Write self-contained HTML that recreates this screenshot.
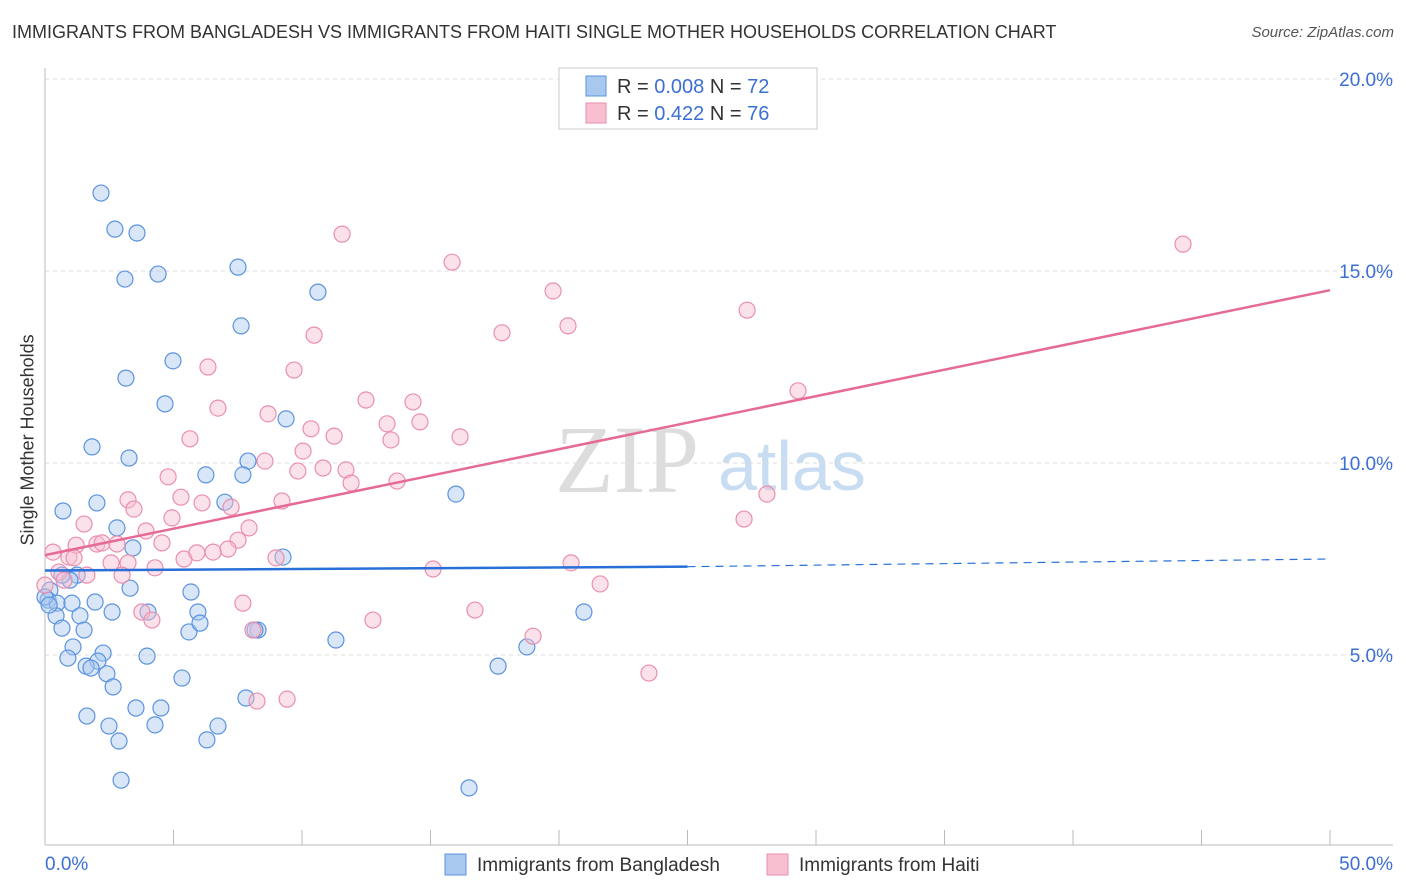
<!DOCTYPE html>
<html><head><meta charset="utf-8"><style>
body{margin:0;background:#fff;font-family:"Liberation Sans",sans-serif;}
#wrap{position:relative;width:1406px;height:892px;overflow:hidden}
.t{position:absolute;white-space:nowrap}
</style></head><body><div id="wrap">
<div class="t" style="left:12px;top:22px;font-size:18px;color:#333">IMMIGRANTS FROM BANGLADESH VS IMMIGRANTS FROM HAITI SINGLE MOTHER HOUSEHOLDS CORRELATION CHART</div>
<div class="t" style="right:12px;top:24px;font-size:15px;color:#555;font-style:italic">Source: ZipAtlas.com</div>
<div class="t" style="left:-62px;top:445px;font-size:18px;color:#333;transform:rotate(-90deg);transform-origin:center;width:180px;text-align:center">Single Mother Households</div>
<svg id="svg" width="1406" height="892" style="position:absolute;left:0;top:0"></svg>
</div>
<script>
const yTicks=[5,10,15,20];
const xTickLabels=["0.0%","50.0%"];
const blueX=[101,115,137,125,158,238,318,241,173,126,165,286,92,129,248,206,243,63,97,225,456,117,133,77,70,62,50,130,191,48,57,72,95,56,80,112,148,198,62,84,189,200,258,336,584,73,103,68,147,98,86,91,107,182,113,498,527,246,87,136,161,109,155,218,119,207,121,469,283,45,49,255].map(p=>+((p-45)/1285*50).toFixed(2));
const blueY=[193,229,233,279,274,267,292,326,361,378,404,419,447,458,461,475,475,511,503,502,494,528,548,575,580,575,590,588,592,600,603,603,602,616,616,612,612,612,628,630,632,623,630,640,612,647,653,658,656,661,666,668,674,678,687,666,647,698,716,708,708,726,725,726,741,740,780,788,557,597,605,630].map(p=>+((847-p)/38.4).toFixed(2));
const pinkX=[342,452,1183,553,747,314,502,568,208,294,798,366,218,413,268,387,420,190,311,334,391,460,265,303,168,298,323,346,351,397,181,202,231,282,128,767,134,172,744,84,146,249,69,76,97,102,117,162,238,228,53,74,184,197,213,276,155,111,128,433,571,87,122,59,64,45,600,243,475,142,152,373,253,533,257,287,649].map(p=>+((p-45)/1285*50).toFixed(2));
const pinkY=[234,262,244,291,310,335,333,326,367,370,391,400,408,402,414,424,422,439,429,436,440,437,461,451,477,471,468,470,483,481,497,503,507,501,500,494,509,518,519,524,531,528,557,545,544,543,544,543,540,549,552,558,559,553,552,558,568,563,563,569,563,575,575,572,580,585,584,603,610,612,620,620,630,636,701,699,673].map(p=>+((847-p)/38.4).toFixed(2));
const blueTrend=[7.2,7.3,7.5];const pinkTrend=[7.6,14.5];
const X=v=>45+v/50*1285, Y=v=>847-v*38.4;
const s=document.getElementById('svg');const NS='http://www.w3.org/2000/svg';
function el(t,a,p){const e=document.createElementNS(NS,t);for(const k in a)e.setAttribute(k,a[k]);(p||s).appendChild(e);return e;}
let wm=el('text',{x:555,y:492,'font-size':96,fill:'#ddd','font-family':'Liberation Serif'});wm.textContent='ZIP';


let wm2=el('text',{x:718,y:490,'font-size':70,fill:'#c8dcf2'});wm2.textContent='atlas';


yTicks.forEach(v=>{let g=el('line',{x1:45,x2:1393,y1:Y(v),y2:Y(v),stroke:'#ddd','stroke-dasharray':'4 4'});


let t=el('text',{x:1393,y:Y(v)+7,'text-anchor':'end','font-size':19,fill:'#3b6fd4'});t.textContent=v.toFixed(1)+'%';

});
el('line',{x1:45,x2:45,y1:68,y2:845,stroke:'#bbb'});
let xa=el('line',{x1:45,x2:1393,y1:845,y2:845,stroke:'#bbb'});


for(let i=0;i<=10;i++){el('line',{x1:X(i*5),x2:X(i*5),y1:830,y2:845,stroke:'#bbb'});}
[[0,'start',45],[1,'end',1393]].forEach(([i,a,x])=>{let t=el('text',{x:x,y:870,'text-anchor':a,'font-size':19,fill:'#3b6fd4'});t.textContent=xTickLabels[i];

});
function pts(xs,ys,fill,stroke,name){xs.forEach((x,i)=>{let c=el('circle',{cx:X(x),cy:Y(ys[i]),r:8,fill:fill,'fill-opacity':0.45,stroke:stroke,'stroke-width':1.2});

});}
pts(blueX,blueY,'#a9c8f0','#5b93e0','point-bangladesh');
pts(pinkX,pinkY,'#f7bfd0','#ea8fae','point-haiti');
let bl=el('line',{x1:X(0),y1:Y(blueTrend[0]),x2:X(25),y2:Y(blueTrend[1]),stroke:'#2870d8','stroke-width':2.5});


let bd=el('line',{x1:X(25),y1:Y(blueTrend[1]),x2:X(50),y2:Y(blueTrend[2]),stroke:'#2870d8','stroke-width':1.2,'stroke-dasharray':'8 6'});


let pl=el('line',{x1:X(0),y1:Y(pinkTrend[0]),x2:X(50),y2:Y(pinkTrend[1]),stroke:'#e56a95','stroke-width':2.5});


// legend
let lb=el('rect',{x:559,y:68,width:258,height:61,fill:'#fff',stroke:'#ccc'});


[[86,'#a9c8f0','#5b93e0','0.008','72'],[113,'#f7bfd0','#ea8fae','0.422','76']].forEach(r=>{
el('rect',{x:586,y:r[0]-10,width:20,height:20,fill:r[1],stroke:r[2]});
let t=el('text',{x:617,y:r[0]+7,'font-size':20,fill:'#333'});t.innerHTML='R = <tspan fill="#3b6fd4">'+r[3]+'</tspan>   N = <tspan fill="#3b6fd4">'+r[4]+'</tspan>';t.setAttribute('xml:space','preserve');

});
[[445,'#a9c8f0','#5b93e0','Immigrants from Bangladesh'],[767,'#f7bfd0','#ea8fae','Immigrants from Haiti']].forEach(r=>{
el('rect',{x:r[0],y:854,width:21,height:21,fill:r[1],stroke:r[2]});
let t=el('text',{x:r[0]+32,y:871,'font-size':19,fill:'#333'});t.textContent=r[3];

});
</script></body></html>
